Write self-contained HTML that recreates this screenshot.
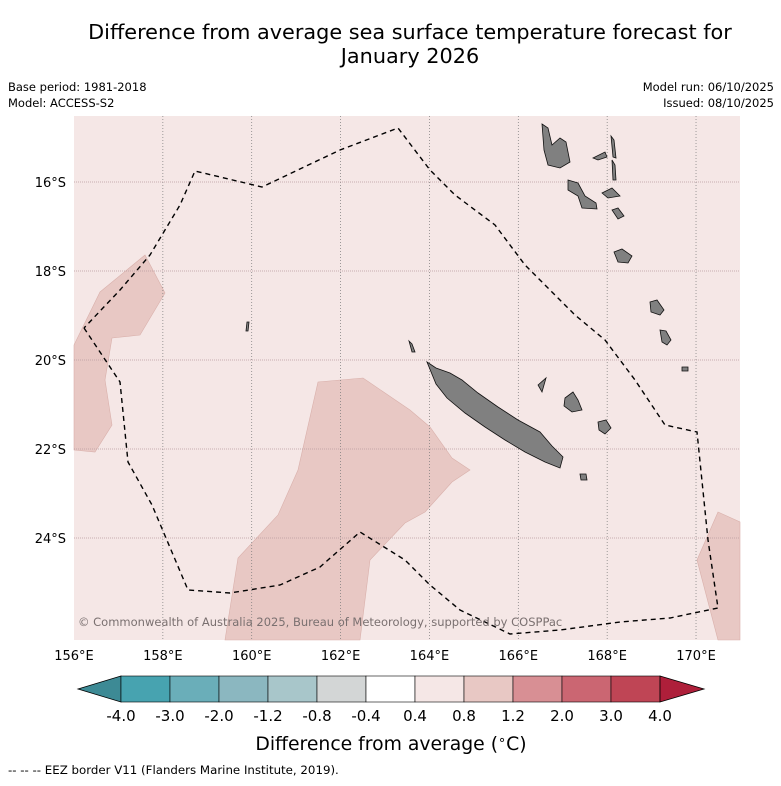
<!DOCTYPE html>
<html><head><meta charset="utf-8"><style>
body{margin:0;background:#fff;font-family:"Liberation Sans","DejaVu Sans",sans-serif;}
</style></head><body>
<svg width="781" height="781" viewBox="0 0 781 781" xmlns="http://www.w3.org/2000/svg" font-family="DejaVu Sans, Liberation Sans, sans-serif">
<text x="410" y="39" text-anchor="middle" font-size="20.8">Difference from average sea surface temperature forecast for</text>
<text x="410" y="63" text-anchor="middle" font-size="20.8">January 2026</text>
<text x="8" y="91" font-size="11.5">Base period: 1981-2018</text>
<text x="8" y="107" font-size="11.5">Model: ACCESS-S2</text>
<text x="774" y="91" font-size="11.5" text-anchor="end">Model run: 06/10/2025</text>
<text x="774" y="107" font-size="11.5" text-anchor="end">Issued: 08/10/2025</text>
<g id="map"></g>
<g id="cbar"></g>
<text x="391" y="750" text-anchor="middle" font-size="18.8">Difference from average (<tspan font-size="13" dy="-6">∘</tspan><tspan dy="6">C)</tspan></text>
<text x="8" y="774" font-size="11.8">--  --  -- EEZ border V11 (Flanders Marine Institute, 2019).</text>
</svg>
<script>
const NS="http://www.w3.org/2000/svg";
const lonTicks=[156,158,160,162,164,166,168,170];
const latTicks=[16,18,20,22,24];
const cbLabels=["-4.0","-3.0","-2.0","-1.2","-0.8","-0.4","0.4","0.8","1.2","2.0","3.0","4.0"];
const cbColors=["#47a3b0","#6aaeb9","#8bb7c0","#a8c6ca","#d3d6d6","#ffffff","#f5e7e6","#e8c8c4","#d88f94","#cb6672","#bf4555"];
const X0=74,X1=740,Y0=116,Y1=640;
function xs(lon){return 74+(lon-156)*44.43;}
function ys(lat){return 182+(lat-16)*44.5;}
function mk(t,a,p){const e=document.createElementNS(NS,t);for(const k in a)e.setAttribute(k,a[k]);p.appendChild(e);return e;}
const map=document.getElementById('map');
const r=mk('rect',{x:X0,y:Y0,width:X1-X0,height:Y1-Y0,fill:'#f5e7e6'},map);


function pts(a){return a.map(p=>p.join(',')).join(' ');}
const patches=[
[[74,345],[100,292],[145,255],[165,293],[140,335],[112,338],[105,380],[112,425],[95,452],[74,450]],
[[225,640],[238,558],[278,515],[298,470],[318,382],[363,378],[410,410],[430,427],[452,458],[470,470],[452,482],[425,512],[405,523],[370,560],[360,640]],
[[697,560],[718,512],[740,522],[740,640],[718,640]]];
patches.forEach(p=>{const e=mk('polygon',{points:pts(p),fill:'#e8c8c4',stroke:'#d9b0ab','stroke-width':0.6},map);

});
const grid=mk('g',{},map);
lonTicks.forEach(l=>{if(l>156)mk('line',{x1:xs(l),x2:xs(l),y1:Y0,y2:Y1,stroke:'#777','stroke-width':0.7,'stroke-dasharray':'1,2'},grid);});
latTicks.forEach(l=>{mk('line',{x1:X0,x2:X1,y1:ys(l),y2:ys(l),stroke:'#b89a9e','stroke-width':0.7,'stroke-dasharray':'1,1'},grid);});


const islands=[
[[427,362],[436,368],[450,373],[462,380],[478,393],[498,407],[518,420],[540,432],[552,446],[563,457],[560,468],[545,462],[525,452],[505,440],[485,427],[465,413],[447,398],[436,384]],
[[542,124],[548,128],[552,145],[560,138],[566,142],[570,162],[560,168],[548,165],[544,150]],
[[593,158],[605,152],[607,157],[598,160]],
[[611,136],[614,140],[616,158],[613,157]],
[[612,160],[615,165],[616,180],[613,180]],
[[568,180],[578,183],[585,196],[596,203],[597,209],[582,208],[578,196],[568,190]],
[[602,193],[612,188],[620,196],[608,198]],
[[612,210],[618,208],[624,216],[618,219]],
[[614,252],[622,249],[632,256],[628,263],[618,262]],
[[650,302],[657,300],[664,310],[660,315],[651,312]],
[[660,330],[666,331],[671,340],[667,345],[662,342]],
[[565,398],[573,392],[578,400],[582,410],[572,412],[564,406]],
[[598,422],[606,420],[611,428],[605,434],[599,430]],
[[538,385],[546,378],[542,392]],
[[580,474],[586,474],[587,480],[581,480]],
[[682,367],[688,367],[688,371],[682,371]],
[[409,341],[412,344],[415,352],[412,352]],
[[247,322],[249,322],[248,331],[246,331]]];
islands.forEach(p=>{const e=mk('polygon',{points:pts(p),fill:'#808080',stroke:'#111','stroke-width':0.8},map);

});
const eez=[[84,328],[120,382],[128,462],[152,505],[188,590],[230,593],[280,585],[320,567],[360,532],[405,560],[430,585],[460,610],[510,634],[560,630],[620,622],[670,618],[718,608],[708,540],[697,432],[665,425],[635,380],[605,340],[575,315],[550,290],[525,265],[495,225],[455,195],[430,170],[398,128],[340,150],[262,187],[195,171],[180,205],[150,255],[120,290],[84,328]];
const ez=mk('polyline',{points:pts(eez),fill:'none',stroke:'#000','stroke-width':1.4,'stroke-dasharray':'5,4'},map);


const cp=mk('text',{x:78,y:626,'font-size':11.5,fill:'#7a7070'},map);cp.textContent='© Commonwealth of Australia 2025, Bureau of Meteorology, supported by COSPPac';


lonTicks.forEach(l=>{const t=mk('text',{x:xs(l),y:660,'text-anchor':'middle','font-size':13},map);t.textContent=l+'°E';

});
latTicks.forEach(l=>{const t=mk('text',{x:66,y:ys(l)+5,'text-anchor':'end','font-size':13},map);t.textContent=l+'°S';

});
const cb=document.getElementById('cbar');
const bx0=121,bw=49,cy=676,ch=26;
const lt=mk('polygon',{points:`${bx0},${cy} 78,${cy+ch/2} ${bx0},${cy+ch}`,fill:'#3d8a95',stroke:'#000','stroke-width':0.8},cb);


cbColors.forEach((c,i)=>{const e=mk('rect',{x:bx0+i*bw,y:cy,width:bw,height:ch,fill:c,stroke:'#000','stroke-width':0.6},cb);

});
const ex=bx0+cbColors.length*bw;
const rt=mk('polygon',{points:`${ex},${cy} 704,${cy+ch/2} ${ex},${cy+ch}`,fill:'#ae1f3a',stroke:'#000','stroke-width':0.8},cb);


cbLabels.forEach((s,i)=>{const t=mk('text',{x:bx0+i*bw,y:721,'text-anchor':'middle','font-size':15},cb);t.textContent=s;

});
</script>
</body></html>
